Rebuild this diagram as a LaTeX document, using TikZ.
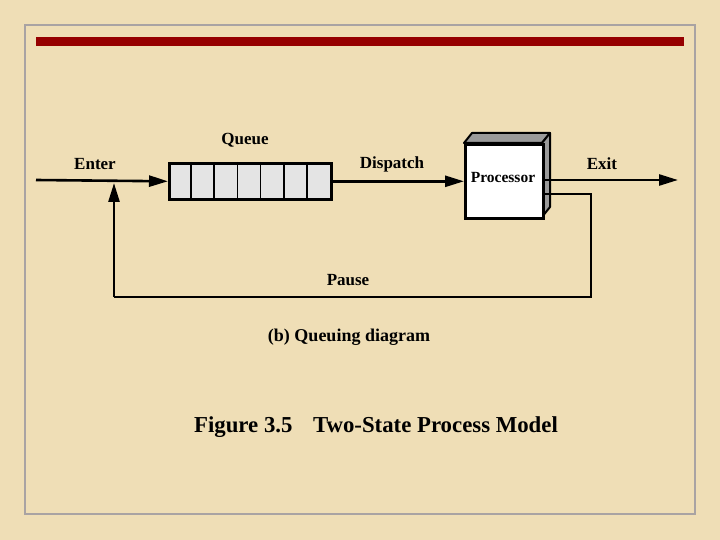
\documentclass[tikz,border=0pt]{standalone}
\usepackage{fontspec}
\setmainfont{Liberation Serif}
\usetikzlibrary{arrows.meta,calc}
\definecolor{parch}{HTML}{EFDEB6}
\definecolor{framegray}{HTML}{A9A3A3}
\definecolor{barred}{HTML}{960000}
\definecolor{cellgray}{HTML}{E4E4E4}
\definecolor{sidegray}{HTML}{9A9A9A}
\tikzset{
  lbl/.style={font=\fontsize{17}{19}\selectfont\bfseries, inner sep=0pt},
  conn/.style={line width=2.6pt, -{Triangle[length=19pt,width=11pt]}},
  plain/.style={line width=2.6pt},
}
\begin{document}
\begin{tikzpicture}[x=1pt,y=-1pt]
\useasboundingbox (0,0) rectangle (720,540);
\fill[parch] (0,0) rectangle (720,540);
\draw[framegray, line width=2pt] (25,25) rectangle (695,514);
\fill[barred] (36,37) rectangle (684,46);

% queue
\node[draw, line width=2.6pt, fill=cellgray, minimum width=162pt, minimum height=36pt, inner sep=0pt, anchor=north west] (queue) at (168,162) {};
\foreach \i in {1,...,6} {
  \draw[line width=1.6pt] ($(queue.north west)+(\i*23.14,0)$) -- ($(queue.south west)+(\i*23.14,0)$);
}
\node[lbl] (qlabel) at (245,140) {Queue};

% processor
\fill[sidegray, draw=black, line width=2pt, line join=round] (464,143) -- (472,133) -- (550,133) -- (542,143) -- cycle;
\fill[sidegray, draw=black, line width=2pt, line join=round] (542,143) -- (550,133) -- (550,207) -- (542,217) -- cycle;
\node[draw, line width=2.6pt, fill=white, minimum width=78pt, minimum height=74pt, inner sep=0pt, anchor=north west] (proc) at (464,143) {};
\node[font=\fontsize{15.5}{17}\selectfont\bfseries, inner sep=0pt] (plabel) at (503,178) {Processor};

% labels
\node[lbl] (enter) at (95,164) {Enter};
\node[lbl] (dispatch) at (392,164) {Dispatch};
\node[lbl] (exit) at (602,164) {Exit};
\node[lbl] (pause) at (348,280) {Pause};
\node[font=\fontsize{18}{20}\selectfont\bfseries, inner sep=0pt] (sub) at (349,337) {(b) Queuing diagram};
\node[font=\fontsize{22.8}{25}\selectfont\bfseries, inner sep=0pt] (title) at (376,427) {Figure 3.5\hspace{0.9em}Two-State Process Model};

% connectors
\coordinate (start) at (36,180);
\coordinate (exitend) at (678,180);
\coordinate (pstart) at (543,194);
\coordinate (pright) at (591,297);
\coordinate (pleft) at (114,297);
\coordinate (ptip) at (114,183);
\draw[conn] (start) -- (queue.west);
\draw[conn] (queue.east) -- (proc.west);
\draw[conn] (proc.east |- start) -- (exitend);
\draw[plain] (pstart) -| (pright) -- (pleft);
\draw[conn] (pleft) -- (ptip);
\end{tikzpicture}
\end{document}
